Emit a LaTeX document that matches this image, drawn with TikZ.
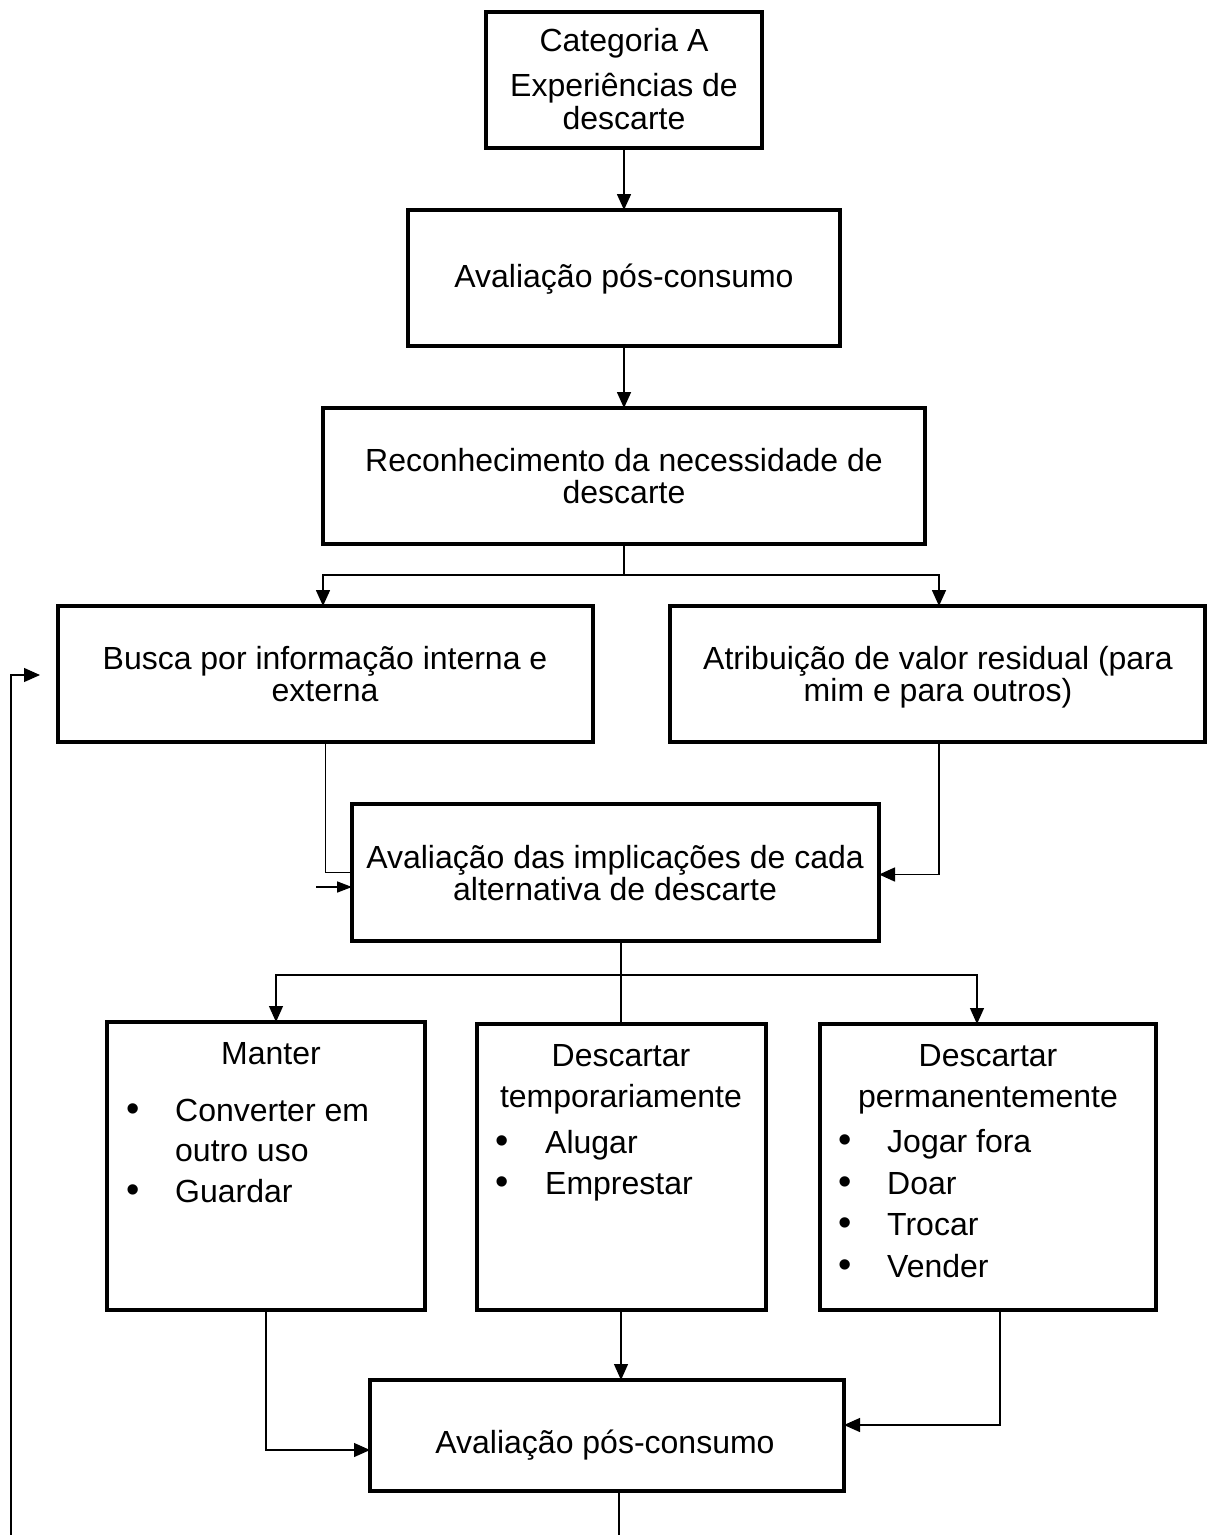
\documentclass[tikz,border=0pt]{standalone}
\usepackage{fontspec}
\setmainfont{Liberation Sans}
\usetikzlibrary{arrows.meta}
\begin{document}
\begin{tikzpicture}[x=1pt,y=-1pt,
  box/.style={draw, line width=3.3pt, inner sep=0pt, outer sep=0pt},
  conn/.style={line width=1.6pt},
  thin/.style={line width=1.2pt},
  arr/.style={-{Triangle[length=16pt,width=14pt]}},
  smallarr/.style={-{Triangle[length=15pt,width=11pt]}},
  txt/.style={font=\fontsize{32}{36}\selectfont, inner sep=0pt, anchor=base},
  ltxt/.style={txt, anchor=base west},
  bul/.style={txt, font=\fontsize{38}{40}\selectfont}]
\useasboundingbox (0,0) rectangle (1208,1535);
\fill[white] (0,0) rectangle (1208,1535);

% boxes
\node[box, minimum width=276pt, minimum height=136pt] (cat) at (624,80) {};
\node[box, minimum width=432pt, minimum height=136pt] (eval1) at (624,278) {};
\node[box, minimum width=602pt, minimum height=136pt] (recon) at (624,476) {};
\node[box, minimum width=535pt, minimum height=136pt] (busca) at (325.5,674) {};
\node[box, minimum width=535pt, minimum height=136pt] (atrib) at (937.5,674) {};
\node[box, minimum width=527pt, minimum height=137pt] (impl) at (615.5,872.5) {};
\node[box, minimum width=318pt, minimum height=288pt] (manter) at (266,1166) {};
\node[box, minimum width=289pt, minimum height=286pt] (temp) at (621.5,1167) {};
\node[box, minimum width=336pt, minimum height=286pt] (perm) at (988,1167) {};
\node[box, minimum width=474pt, minimum height=111pt] (eval2) at (607,1435.5) {};

% box texts
\node[txt] (catA) at (624,51) {Categoria A};
\node[txt] (catB) at (624,96) {Experiências de};
\node[txt] (catC) at (624,129) {descarte};
\node[txt] (ev1) at (624,287) {Avaliação pós-consumo};
\node[txt] (reA) at (624,471) {Reconhecimento da necessidade de};
\node[txt] (reB) at (624,503) {descarte};
\node[txt] (buA) at (325,669) {Busca por informação interna e};
\node[txt] (buB) at (325,701) {externa};
\node[txt] (atA) at (938,669) {Atribuição de valor residual (para};
\node[txt] (atB) at (938,701) {mim e para outros)};
\node[txt] (imA) at (615,868) {Avaliação das implicações de cada};
\node[txt] (imB) at (615,900) {alternativa de descarte};
\node[txt] (ev2) at (605,1453) {Avaliação pós-consumo};

% option boxes
\node[txt] (maT) at (271,1064) {Manter};
\node[bul] (maB1) at (133,1121) {•};
\node[ltxt] (ma1) at (175,1121) {Converter em};
\node[ltxt] (ma1b) at (175,1161) {outro uso};
\node[bul] (maB2) at (133,1202) {•};
\node[ltxt] (ma2) at (175,1202) {Guardar};

\node[txt] (teT1) at (621,1066) {Descartar};
\node[txt] (teT2) at (621,1107) {temporariamente};
\node[bul] (teB1) at (502,1153) {•};
\node[ltxt] (te1) at (545,1153) {Alugar};
\node[bul] (teB2) at (502,1194) {•};
\node[ltxt] (te2) at (545,1194) {Emprestar};

\node[txt] (peT1) at (988,1066) {Descartar};
\node[txt] (peT2) at (988,1107) {permanentemente};
\node[bul] (peB1) at (845,1152) {•};
\node[ltxt] (pe1) at (887,1152) {Jogar fora};
\node[bul] (peB2) at (845,1194) {•};
\node[ltxt] (pe2) at (887,1194) {Doar};
\node[bul] (peB3) at (845,1235) {•};
\node[ltxt] (pe3) at (887,1235) {Trocar};
\node[bul] (peB4) at (845,1277) {•};
\node[ltxt] (pe4) at (887,1277) {Vender};

% connectors
\coordinate (split1) at (624,575);
\coordinate (split2) at (621,975);
\coordinate (stub) at (316,887);
\coordinate (fbA) at (11,1535);
\coordinate (fbB) at (40,675);
\coordinate (fbC) at (619,1535);

\draw[conn, arr] (cat.south) -- (eval1.north);
\draw[conn, arr] (eval1.south) -- (recon.north);
\draw[conn] (recon.south) -- (split1);
\draw[conn, arr] (split1) -| ([xshift=-2.5pt]busca.north);
\draw[conn, arr] (split1) -| ([xshift=1.5pt]atrib.north);
\draw[conn] (busca.south) |- (impl.west);
\draw[conn, smallarr] (stub) -- (impl.west |- stub);
\draw[conn, arr] ([xshift=1.5pt]atrib.south) |- ([yshift=-2pt]impl.east);
\draw[thin] (impl.south -| split2) -- (temp.north -| split2);
\draw[thin, arr] (split2) -| ([xshift=10pt]manter.north);
\draw[thin, arr] (split2) -| ([xshift=-11pt]perm.north);
\draw[thin, arr] (manter.south) |- ([yshift=-14.5pt]eval2.west);
\draw[thin, arr] (temp.south -| split2) -- (eval2.north -| split2);
\draw[thin, arr] ([xshift=12pt]perm.south) |- ([yshift=10.5pt]eval2.east);
\draw[thin, arr] (fbA) |- (fbB);
\draw[thin] (eval2.south -| fbC) -- (fbC);
\end{tikzpicture}
\end{document}
